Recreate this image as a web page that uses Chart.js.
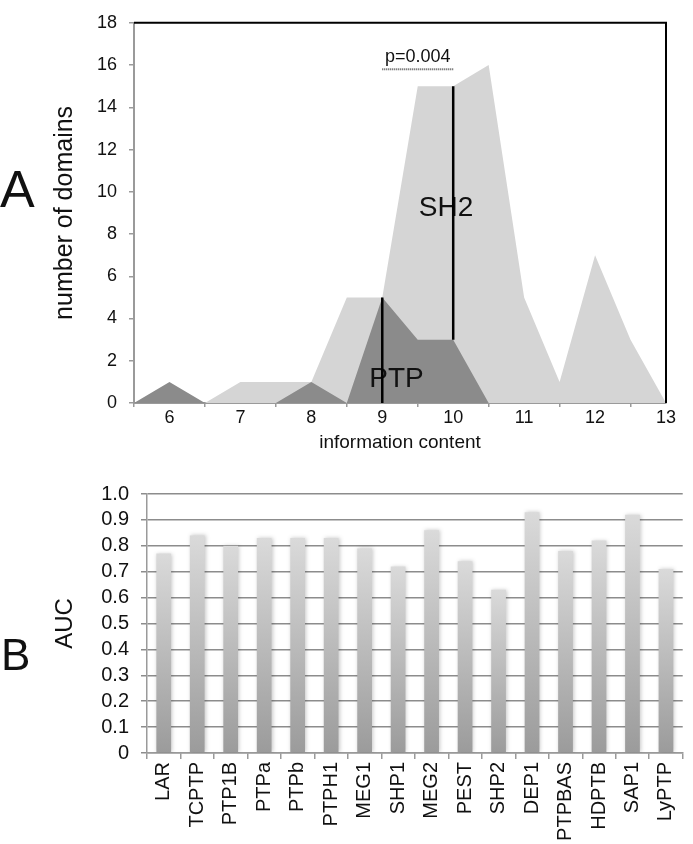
<!DOCTYPE html>
<html>
<head>
<meta charset="utf-8">
<script src="https://cdn.jsdelivr.net/npm/chart.js@4.4.0/dist/chart.umd.min.js"></script>
<style>
  body { margin: 0; background: #fff; width: 693px; height: 844px; position: relative; overflow: hidden; font-family: "Liberation Sans", Arial, sans-serif; }
  canvas { position: absolute; left: 0; }
  #domainChart { top: 0; }
  #aucChart { top: 460px; }
  .panel { position: absolute; left: 0; line-height: 1; color: #111; }
  #labelA { top: 163px; font-size: 52px; }
  #labelB { top: 633px; left: 1px; font-size: 44px; }
</style>
</head>
<body>
<canvas id="domainChart" width="693" height="460"></canvas>
<canvas id="aucChart" width="693" height="384"></canvas>
<div class="panel" id="labelA">A</div>
<div class="panel" id="labelB">B</div>
<script>
// panel A: number of domains per information content bin
const infoContent = [5.5, 6, 6.5, 7, 7.5, 8, 8.5, 9, 9.5, 10, 10.5, 11, 11.5, 12, 12.5, 13];
const sh2Counts = [0, 0, 0, 1, 1, 1, 5, 5, 15, 15, 16, 5, 1, 7, 3, 0];
const ptpCounts = [0, 1, 0, 0, 0, 1, 0, 5, 3, 3, 0, 0, 0, 0, 0, 0];
// median markers (x, bottom, top)
const medianX = [9, 10];
const medianLow = [0, 3];
const medianHigh = [5, 15];
const pValueText = 'p=0.004';
const pValueSpan = [9, 10];
const pValueLevel = 15.8;

// panel B: AUC per phosphatase
const phosphatases = ['LAR', 'TCPTP', 'PTP1B', 'PTPa', 'PTPb', 'PTPH1', 'MEG1', 'SHP1', 'MEG2', 'PEST', 'SHP2', 'DEP1', 'PTPBAS', 'HDPTB', 'SAP1', 'LyPTP'];
const aucValues = [0.77, 0.84, 0.80, 0.83, 0.83, 0.83, 0.79, 0.72, 0.86, 0.74, 0.63, 0.93, 0.78, 0.82, 0.92, 0.71];

Chart.defaults.font.family = '"Liberation Sans", Arial, sans-serif';
Chart.defaults.color = '#111';

const FONT = '"Liberation Sans", Arial, sans-serif';
const axisGrey = '#9a9a9a';

// text labels inside panel A (data units)
const areaLabels = [
    { text: 'SH2', x: 9.9, y: 9.2 },
    { text: 'PTP', x: 9.2, y: 1.1 }
];

const toPoints = (xs, ys) => xs.map((x, i) => ({ x: x, y: ys[i] }));

const domainNotes = {
    id: 'domainNotes',
    afterDatasetDraw(chart, args) {
        if (args.index !== 1) return;   // right after the PTP area
        const { ctx, scales: { x, y } } = chart;
        ctx.save();
        ctx.fillStyle = '#111';
        ctx.textAlign = 'center';
        ctx.textBaseline = 'middle';
        ctx.font = '28px ' + FONT;
        areaLabels.forEach(l => ctx.fillText(l.text, x.getPixelForValue(l.x), y.getPixelForValue(l.y)));
        ctx.restore();
    },
    afterDatasetsDraw(chart) {
        const { ctx, scales: { x, y } } = chart;
        ctx.save();
        // black frame on top and right side
        ctx.strokeStyle = '#000';
        ctx.lineWidth = 2;
        ctx.beginPath();
        ctx.moveTo(x.left, y.top);
        ctx.lineTo(x.right, y.top);
        ctx.lineTo(x.right, y.bottom);
        ctx.stroke();
        ctx.fillStyle = '#111';
        ctx.textAlign = 'center';
        ctx.textBaseline = 'middle';
        ctx.font = '18px ' + FONT;
        ctx.fillText(pValueText, x.getPixelForValue((pValueSpan[0] + pValueSpan[1]) / 2), y.getPixelForValue(pValueLevel + 0.6));
        ctx.restore();
    }
};

new Chart(document.getElementById('domainChart'), {
    type: 'line',
    data: {
        datasets: [
            {
                label: 'median',
                data: [{ x: medianX[0], y: medianLow[0] }, { x: medianX[0], y: medianHigh[0] }],
                borderColor: '#000', borderWidth: 2.5, pointRadius: 0, fill: false, order: 0
            },
            {
                label: 'PTP',
                data: toPoints(infoContent, ptpCounts),
                backgroundColor: '#8b8b8b', borderColor: 'rgba(0,0,0,0)', borderWidth: 0,
                pointRadius: 0, fill: 'origin', order: 2
            },
            {
                label: 'SH2',
                data: toPoints(infoContent, sh2Counts),
                backgroundColor: '#d5d5d5', borderColor: 'rgba(0,0,0,0)', borderWidth: 0,
                pointRadius: 0, fill: 'origin', order: 3
            },
            {
                label: 'median2',
                data: [{ x: medianX[1], y: medianLow[1] }, { x: medianX[1], y: medianHigh[1] }],
                borderColor: '#000', borderWidth: 2.5, pointRadius: 0, fill: false, order: 0
            },
            {
                label: 'p',
                data: [{ x: pValueSpan[0], y: pValueLevel }, { x: pValueSpan[1], y: pValueLevel }],
                borderColor: '#555', borderWidth: 2, borderDash: [1, 1], pointRadius: 0, fill: false, order: 0
            }
        ]
    },
    options: {
        responsive: false,
        animation: false,
        layout: { padding: { left: 40, right: 27, top: 8, bottom: 0 } },
        plugins: { legend: { display: false }, tooltip: { enabled: false } },
        elements: { line: { tension: 0 } },
        scales: {
            x: {
                type: 'linear',
                min: 5.5,
                max: 13,
                afterFit: s => { s.height = 57; },
                border: { color: axisGrey, width: 2 },
                grid: {
                    drawOnChartArea: false,
                    tickLength: 4,
                    lineWidth: 1.5,
                    tickColor: c => (c.tick && Number.isInteger(c.tick.value)) ? 'rgba(0,0,0,0)' : axisGrey
                },
                ticks: {
                    stepSize: 0.5,
                    autoSkip: false,
                    maxRotation: 0,
                    padding: 0,
                    font: { size: 18 },
                    callback: v => Number.isInteger(v) ? v : ''
                },
                title: { display: true, text: 'information content', font: { size: 19 }, padding: { top: 0, bottom: 6 } }
            },
            y: {
                min: 0,
                max: 18,
                afterFit: s => { s.width = 94; },
                border: { color: axisGrey, width: 2 },
                grid: { drawOnChartArea: false, tickLength: 5, tickColor: axisGrey, lineWidth: 1.5 },
                ticks: { stepSize: 2, autoSkip: false, padding: 12, font: { size: 18 } },
                title: { display: true, text: 'number of domains', font: { size: 25 }, padding: { top: 10, bottom: 0 } }
            }
        }
    },
    plugins: [domainNotes]
});

function barGradient(c) {
    const chart = c.chart;
    const area = chart.chartArea;
    if (!area || !c.parsed) return '#c4c4c4';
    const top = chart.scales.y.getPixelForValue(c.parsed.y);
    const g = chart.ctx.createLinearGradient(0, area.bottom, 0, top);
    g.addColorStop(0, '#9b9b9b');
    g.addColorStop(1, '#dadada');
    return g;
}

const barGlow = {
    id: 'barGlow',
    beforeDatasetsDraw(chart) {
        const ctx = chart.ctx;
        ctx.save();
        ctx.shadowColor = 'rgba(0,0,0,0.22)';
        ctx.shadowBlur = 4;
        ctx.shadowOffsetX = 1;
    },
    afterDatasetsDraw(chart) {
        chart.ctx.restore();
    }
};

new Chart(document.getElementById('aucChart'), {
    type: 'bar',
    data: {
        labels: phosphatases,
        datasets: [{
            label: 'AUC',
            data: aucValues,
            backgroundColor: barGradient,
            borderWidth: 0,
            categoryPercentage: 1,
            barPercentage: 0.44
        }]
    },
    options: {
        responsive: false,
        animation: false,
        layout: { padding: { left: 40, right: 1, top: 34, bottom: 0 } },
        plugins: { legend: { display: false }, tooltip: { enabled: false } },
        scales: {
            x: {
                afterFit: s => { s.height = 91; },
                border: { color: axisGrey, width: 1.5 },
                grid: { drawOnChartArea: false, tickLength: 6, tickColor: axisGrey, lineWidth: 1.5 },
                ticks: { autoSkip: false, minRotation: 90, maxRotation: 90, padding: 3, font: { size: 20 } }
            },
            y: {
                min: 0,
                max: 1,
                afterFit: s => { s.width = 107; },
                border: { color: axisGrey, width: 1.5 },
                grid: { color: '#8c8c8c', lineWidth: 1.5, tickLength: 6 },
                ticks: { stepSize: 0.1, autoSkip: false, padding: 12, font: { size: 20 }, callback: v => v === 0 ? '0' : v.toFixed(1) },
                title: { display: true, text: 'AUC', font: { size: 24 }, padding: { top: 11, bottom: 0 } }
            }
        }
    },
    plugins: [barGlow]
});
</script>
</body>
</html>
